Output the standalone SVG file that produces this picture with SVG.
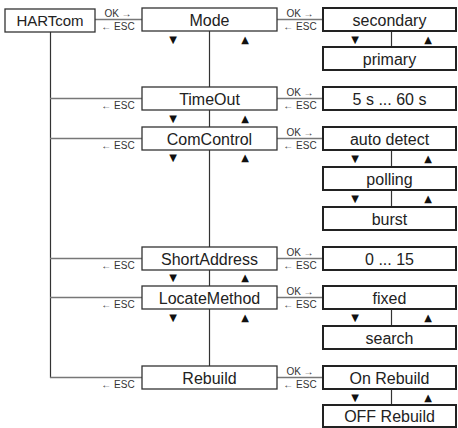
<svg xmlns="http://www.w3.org/2000/svg" width="458" height="428" viewBox="0 0 458 428">
<style>
.bg{fill:#ffffff}
.menu{fill:#ffffff;stroke:#333333;stroke-width:1.3}
.val{fill:#ffffff;stroke:#222222;stroke-width:2}
.t{font-family:"Liberation Sans",Arial,sans-serif;font-size:16px;fill:#222222;text-anchor:middle}
.s{font-family:"Liberation Sans",Arial,sans-serif;font-size:10px;fill:#333333;text-anchor:middle}
.tri{font-family:"DejaVu Sans",sans-serif;font-size:10px;fill:#111111;text-anchor:middle}
.h{stroke:#777777;stroke-width:1.5;fill:none}
.v{stroke:#333333;stroke-width:1.2;fill:none}
</style>
<rect class="bg" x="0" y="0" width="458" height="428"/>
<g id="connectors">
  <line class="v" x1="50.5" y1="32" x2="50.5" y2="378"/>
  <line class="h" x1="95" y1="19.5" x2="142" y2="19.5"/>
  <line class="h" x1="50" y1="98.5" x2="142" y2="98.5"/>
  <line class="h" x1="50" y1="138.5" x2="142" y2="138.5"/>
  <line class="h" x1="50" y1="258.5" x2="142" y2="258.5"/>
  <line class="h" x1="50" y1="297.5" x2="142" y2="297.5"/>
  <line class="h" x1="50" y1="377.5" x2="142" y2="377.5"/>
  <line class="h" x1="277" y1="19.5" x2="323" y2="19.5"/>
  <line class="h" x1="277" y1="98.5" x2="323" y2="98.5"/>
  <line class="h" x1="277" y1="138.5" x2="323" y2="138.5"/>
  <line class="h" x1="277" y1="258.5" x2="323" y2="258.5"/>
  <line class="h" x1="277" y1="297.5" x2="323" y2="297.5"/>
  <line class="h" x1="277" y1="377.5" x2="323" y2="377.5"/>
  <line class="v" x1="209.5" y1="31" x2="209.5" y2="87"/>
  <line class="v" x1="209.5" y1="110" x2="209.5" y2="127"/>
  <line class="v" x1="209.5" y1="150" x2="209.5" y2="247"/>
  <line class="v" x1="209.5" y1="270" x2="209.5" y2="286"/>
  <line class="v" x1="209.5" y1="309" x2="209.5" y2="366"/>
  <line class="v" x1="391.5" y1="31" x2="391.5" y2="47"/>
  <line class="v" x1="391.5" y1="150" x2="391.5" y2="167"/>
  <line class="v" x1="391.5" y1="190" x2="391.5" y2="207"/>
  <line class="v" x1="391.5" y1="309" x2="391.5" y2="326"/>
  <line class="v" x1="391.5" y1="389" x2="391.5" y2="405"/>
  <text class="s" x="118" y="17">OK →</text>
  <text class="s" x="118" y="30">← ESC</text>
  <text class="s" x="118" y="109">← ESC</text>
  <text class="s" x="118" y="149">← ESC</text>
  <text class="s" x="118" y="269">← ESC</text>
  <text class="s" x="118" y="308">← ESC</text>
  <text class="s" x="118" y="388">← ESC</text>
  <text class="s" x="300" y="17">OK →</text>
  <text class="s" x="300" y="30">← ESC</text>
  <text class="s" x="300" y="96">OK →</text>
  <text class="s" x="300" y="109">← ESC</text>
  <text class="s" x="300" y="136">OK →</text>
  <text class="s" x="300" y="149">← ESC</text>
  <text class="s" x="300" y="256">OK →</text>
  <text class="s" x="300" y="269">← ESC</text>
  <text class="s" x="300" y="295">OK →</text>
  <text class="s" x="300" y="308">← ESC</text>
  <text class="s" x="300" y="375">OK →</text>
  <text class="s" x="300" y="388">← ESC</text>
  <text class="tri" x="173" y="43">▼</text><text class="tri" x="245" y="43">▲</text>
  <text class="tri" x="173" y="122">▼</text><text class="tri" x="245" y="122">▲</text>
  <text class="tri" x="173" y="161">▼</text><text class="tri" x="245" y="161">▲</text>
  <text class="tri" x="173" y="281">▼</text><text class="tri" x="245" y="281">▲</text>
  <text class="tri" x="173" y="321">▼</text><text class="tri" x="245" y="321">▲</text>
  <text class="tri" x="355" y="43">▼</text><text class="tri" x="428" y="43">▲</text>
  <text class="tri" x="355" y="162">▼</text><text class="tri" x="428" y="162">▲</text>
  <text class="tri" x="355" y="202">▼</text><text class="tri" x="428" y="202">▲</text>
  <text class="tri" x="355" y="321">▼</text><text class="tri" x="428" y="321">▲</text>
  <text class="tri" x="355" y="401">▼</text><text class="tri" x="428" y="401">▲</text>
</g>
<g id="hartcom"><rect class="menu" x="5" y="9" width="90" height="23"/><text class="t" x="50" y="26" style="font-size:15px">HARTcom</text></g>
<g id="mode"><rect class="menu" x="142" y="8" width="135" height="23"/><text class="t" x="209.5" y="25.5">Mode</text></g>
<g id="timeout"><rect class="menu" x="142" y="87" width="135" height="23"/><text class="t" x="209.5" y="104.5">TimeOut</text></g>
<g id="comcontrol"><rect class="menu" x="142" y="127" width="135" height="23"/><text class="t" x="209.5" y="144.5">ComControl</text></g>
<g id="shortaddress"><rect class="menu" x="142" y="247" width="135" height="23"/><text class="t" x="209.5" y="264.5">ShortAddress</text></g>
<g id="locatemethod"><rect class="menu" x="142" y="286" width="135" height="23"/><text class="t" x="209.5" y="303.5">LocateMethod</text></g>
<g id="rebuild"><rect class="menu" x="142" y="366" width="135" height="23"/><text class="t" x="209.5" y="383.5">Rebuild</text></g>
<g id="secondary"><rect class="val" x="323" y="8" width="133" height="23"/><text class="t" x="389.5" y="25.5">secondary</text></g>
<g id="primary"><rect class="val" x="323" y="47" width="133" height="23"/><text class="t" x="389.5" y="64.5">primary</text></g>
<g id="timeout-val"><rect class="val" x="323" y="87" width="133" height="23"/><text class="t" x="389.5" y="104.5">5 s ... 60 s</text></g>
<g id="autodetect"><rect class="val" x="323" y="127" width="133" height="23"/><text class="t" x="389.5" y="144.5">auto detect</text></g>
<g id="polling"><rect class="val" x="323" y="167" width="133" height="23"/><text class="t" x="389.5" y="184.5">polling</text></g>
<g id="burst"><rect class="val" x="323" y="207" width="133" height="23"/><text class="t" x="389.5" y="224.5">burst</text></g>
<g id="address-val"><rect class="val" x="323" y="247" width="133" height="23"/><text class="t" x="389.5" y="264.5">0 ... 15</text></g>
<g id="fixed"><rect class="val" x="323" y="286" width="133" height="23"/><text class="t" x="389.5" y="303.5">fixed</text></g>
<g id="search"><rect class="val" x="323" y="326" width="133" height="23"/><text class="t" x="389.5" y="343.5">search</text></g>
<g id="onrebuild"><rect class="val" x="323" y="366" width="133" height="23"/><text class="t" x="389.5" y="383.5">On Rebuild</text></g>
<g id="offrebuild"><rect class="val" x="323" y="405" width="133" height="22"/><text class="t" x="389.5" y="422">OFF Rebuild</text></g>
</svg>
